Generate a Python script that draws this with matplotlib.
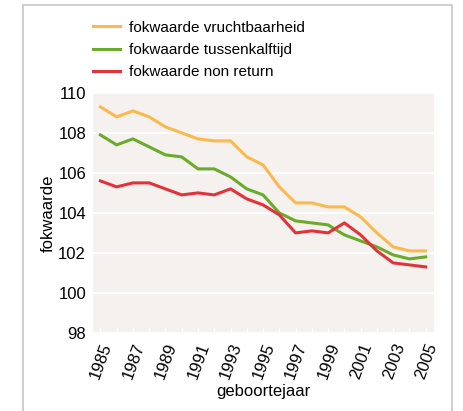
import matplotlib.pyplot as plt
from matplotlib.lines import Line2D
import numpy as np

plt.rcParams['font.family'] = ['Liberation Sans Narrow', 'Liberation Sans', 'DejaVu Sans']

jaren = list(range(1985, 2006))
vruchtbaarheid = [109.3, 108.8, 109.1, 108.8, 108.3, 108.0, 107.7, 107.6, 107.6, 106.8, 106.4,
                  105.3, 104.5, 104.5, 104.3, 104.3, 103.8, 103.0, 102.3, 102.1, 102.1]
tussenkalftijd = [107.9, 107.4, 107.7, 107.3, 106.9, 106.8, 106.2, 106.2, 105.8, 105.2, 104.9,
                  104.0, 103.6, 103.5, 103.4, 102.9, 102.6, 102.3, 101.9, 101.7, 101.8]
non_return = [105.6, 105.3, 105.5, 105.5, 105.2, 104.9, 105.0, 104.9, 105.2, 104.7, 104.4,
              103.9, 103.0, 103.1, 103.0, 103.5, 102.9, 102.1, 101.5, 101.4, 101.3]
xticks = list(range(1985, 2006, 2))
yticks = [98, 100, 102, 104, 106, 108, 110]

fig = plt.figure(figsize=(4.63, 4.11), dpi=100)
ax = fig.add_axes([0.201, 0.19, 0.736, 0.584])
ax.set_facecolor('#f4f1ee')

ax.plot(jaren, vruchtbaarheid, color='#fbb94f', lw=2.2, label='fokwaarde vruchtbaarheid')
ax.plot(jaren, tussenkalftijd, color='#6aab2b', lw=2.2, label='fokwaarde tussenkalftijd')
ax.plot(jaren, non_return, color='#e2333a', lw=2.2, label='fokwaarde non return')

ax.set_xlim(1984.55, 2005.5)
ax.set_ylim(98, 110)
ax.set_yticks(yticks)
ax.set_xticks(xticks)
ax.set_xticks(jaren, minor=True)
ax.set_xticklabels([str(t) for t in xticks], rotation=70, ha='right', rotation_mode='anchor')
ax.yaxis.grid(True, color='white', lw=1.3)
ax.set_axisbelow(True)
for s in ax.spines.values():
    s.set_visible(False)
ax.tick_params(axis='x', which='both', direction='in', color='white', length=4, width=1,
               labelsize=12, pad=6)
ax.tick_params(axis='y', length=0, labelsize=12, pad=5)
ax.set_xlabel('geboortejaar', fontsize=12, labelpad=2)
ax.set_ylabel('fokwaarde', fontsize=12, labelpad=2)

fig.legend(loc='upper left', bbox_to_anchor=(0.2, 0.95), frameon=False, fontsize=11,
           borderpad=0, borderaxespad=0,
           handlelength=1.8, handletextpad=0.6, labelspacing=0.55)

# grijze kader
kc = '#cfcfcf'
fig.add_artist(Line2D([0.05, 0.05], [0.0, 0.988], color=kc, lw=1.5))
fig.add_artist(Line2D([0.977, 0.977], [0.0, 0.988], color=kc, lw=1.5))
fig.add_artist(Line2D([0.05, 0.977], [0.988, 0.988], color=kc, lw=1.5))

fig.savefig('out.png', dpi=100)
